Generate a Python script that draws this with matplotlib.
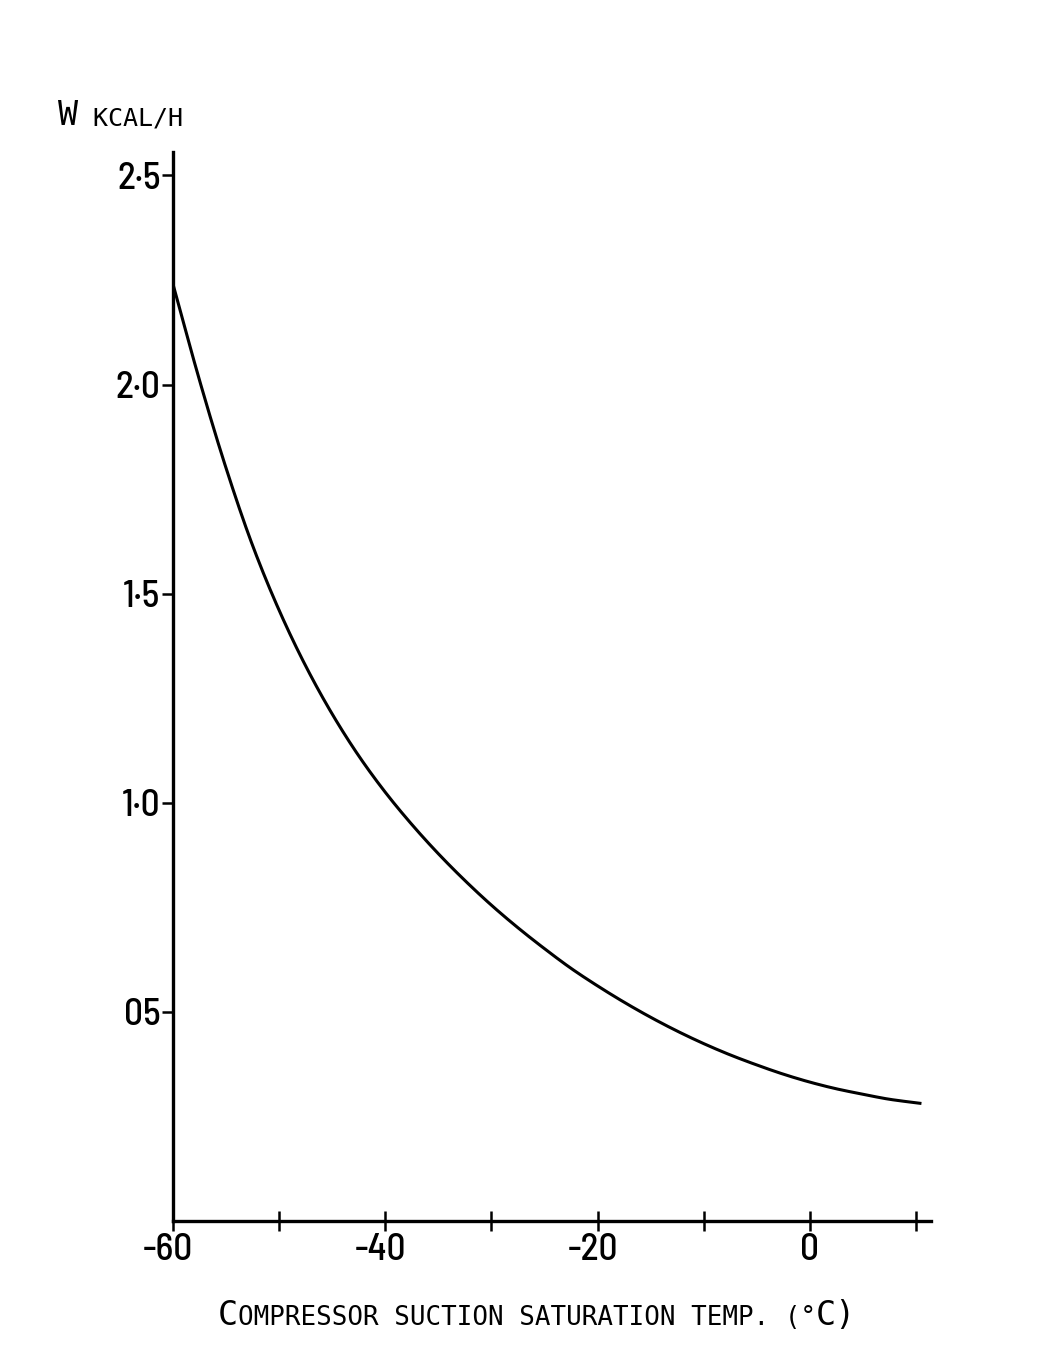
import matplotlib
matplotlib.use("Agg")
import matplotlib.pyplot as plt
import matplotlib.transforms as mtransforms
import numpy as np

# Data
temp_c = [-60, -57.5, -55, -52.5, -50, -47.5, -45, -42.5, -40, -37.5, -35, -32.5,
          -30, -27.5, -25, -22.5, -20, -17.5, -15, -12.5, -10, -7.5, -5, -2.5,
          0, 2.5, 5, 7.5, 10.5]
w_kcal_h = [2.24, 2.01, 1.80, 1.615, 1.46, 1.327, 1.212, 1.112, 1.025, 0.948, 0.878, 0.814,
            0.755, 0.701, 0.651, 0.604, 0.562, 0.523, 0.487, 0.454, 0.424, 0.397, 0.373, 0.351,
            0.332, 0.316, 0.303, 0.291, 0.281]

x_ticks = [-60, -50, -40, -30, -20, -10, 0, 10]
x_ticklabels = ["-60", "", "-40", "", "-20", "", "0", ""]
y_ticks = [0.5, 1.0, 1.5, 2.0, 2.5]
y_ticklabels = ["05", "1·0", "1·5", "2·0", "2·5"]

W, H = 1051, 1369
fig = plt.figure(figsize=(W / 100, H / 100), dpi=100)
ax = fig.add_axes([173 / W, 148 / H, (931 - 173) / W, (1217 - 148) / H])

# smooth monotone (PCHIP-like) rendering through the read points
x = np.array(temp_c, float)
y = np.array(w_kcal_h, float)
h = np.diff(x)
d = np.diff(y) / h
m = np.zeros_like(y)
m[0], m[-1] = d[0], d[-1]
for i in range(1, len(y) - 1):
    if d[i - 1] * d[i] > 0:
        w1 = 2 * h[i] + h[i - 1]
        w2 = h[i] + 2 * h[i - 1]
        m[i] = (w1 + w2) / (w1 / d[i - 1] + w2 / d[i])
xs, ys = [], []
for i in range(len(x) - 1):
    t = np.linspace(0, 1, 20, endpoint=False)
    h00 = 2 * t**3 - 3 * t**2 + 1
    h10 = t**3 - 2 * t**2 + t
    h01 = -2 * t**3 + 3 * t**2
    h11 = t**3 - t**2
    xs.extend(x[i] + t * h[i])
    ys.extend(h00 * y[i] + h10 * h[i] * m[i] + h01 * y[i + 1] + h11 * h[i] * m[i + 1])
xs.append(x[-1]); ys.append(y[-1])
ax.plot(xs, ys, color="black", lw=2.2, solid_capstyle="butt")

ax.set_xlim(-60, 11.4)
ax.set_ylim(0, 2.556)
for s in ["top", "right"]:
    ax.spines[s].set_visible(False)
for s in ["left", "bottom"]:
    ax.spines[s].set_linewidth(2.4)
    ax.spines[s].set_color("black")

tick_font = dict(family=["Barlow Semi Condensed", "DejaVu Sans"], size=27, weight="medium")

ax.set_xticks(x_ticks)
ax.set_xticklabels(x_ticklabels, fontdict=tick_font)
ax.set_yticks(y_ticks)
ax.set_yticklabels(y_ticklabels, fontdict=tick_font)
ax.tick_params(axis="x", direction="inout", length=14, width=1.8, pad=2)
ax.tick_params(axis="y", direction="out", length=8, width=1.8, pad=1)
for lab in ax.get_xticklabels():
    if lab.get_text().startswith("-"):
        lab.set_transform(lab.get_transform() + mtransforms.ScaledTranslation(-5 / 100, 0, fig.dpi_scale_trans))

mono = ["DejaVu Sans Mono"]
renderer = fig.canvas.get_renderer()

def place_pieces(pieces, x0_px, base_px):
    xpx = x0_px
    for txt, size in pieces:
        t = fig.text(xpx / W, (H - base_px) / H, txt, family=mono, fontsize=size,
                     ha="left", va="baseline", color="black")
        bb = t.get_window_extent(renderer=renderer)
        xpx += bb.width

# Y axis title
place_pieces([("W", 24), (" KCAL/H", 18)], 58, 125)
# X axis title
place_pieces([("C", 24), ("OMPRESSOR SUCTION SATURATION TEMP. (°", 18.6), ("C)", 24)], 218, 1325)

fig.savefig("out.png", dpi=100, facecolor="white")
